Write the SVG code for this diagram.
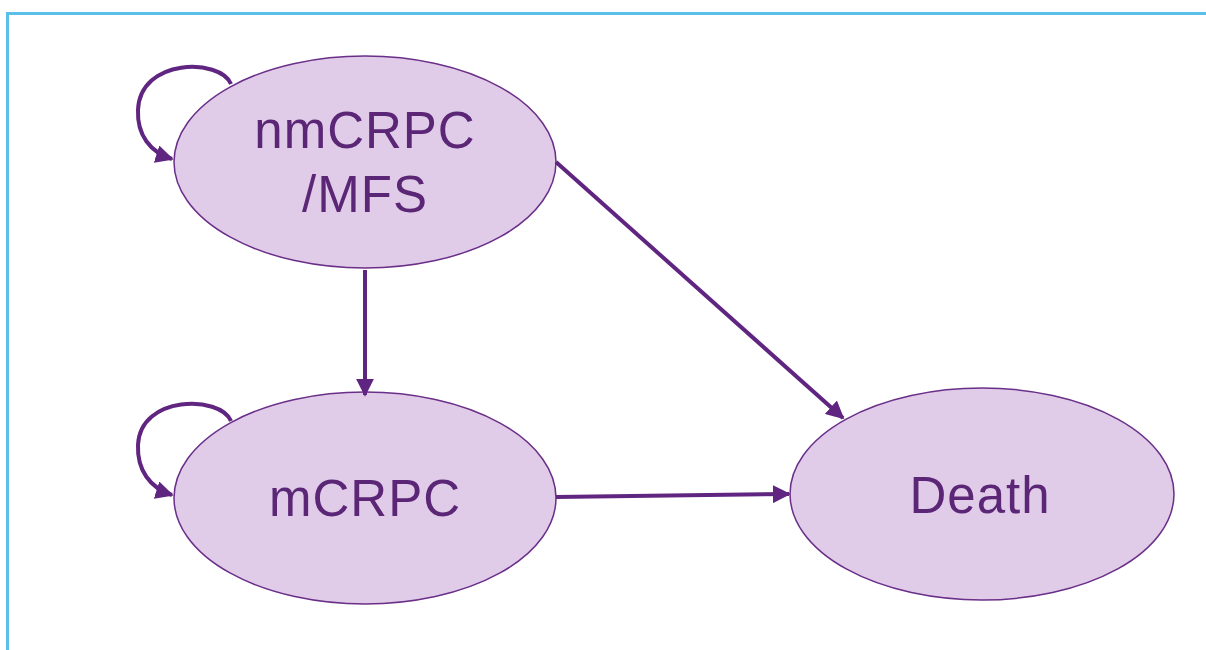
<svg xmlns="http://www.w3.org/2000/svg" width="1206" height="650" viewBox="0 0 1206 650">
<style>
.node ellipse{fill:#e0cbe9;stroke:#6a2f88;stroke-width:1.5}
.node text{font-family:"Liberation Sans",Arial,sans-serif;font-size:51px;letter-spacing:1px;fill:#5a2675;text-anchor:middle}
.conn path{fill:none;stroke:#5f2580;stroke-width:4}
</style>
<defs>
<marker id="ah" viewBox="0 0 10 10" refX="9" refY="5" markerWidth="4.5" markerHeight="4.5" orient="auto" markerUnits="strokeWidth">
<path d="M0,0 L10,5 L0,10 z" fill="#5f2580"/>
</marker>
</defs>
<rect x="0" y="0" width="1206" height="650" fill="#ffffff"/>
<path d="M7.5,650 V13.5 H1206" fill="none" stroke="#5bbfea" stroke-width="3"/>
<g id="n1" class="node">
<ellipse cx="365" cy="162" rx="191" ry="106"/>
<text x="365" y="148">nmCRPC</text>
<text x="365" y="212">/MFS</text>
</g>
<g id="n2" class="node">
<ellipse cx="365" cy="498" rx="191" ry="106"/>
<text x="365" y="516">mCRPC</text>
</g>
<g id="n3" class="node">
<ellipse cx="982" cy="494" rx="192" ry="106"/>
<text x="980" y="513">Death</text>
</g>
<g id="connectors" class="conn">
<path d="M365,270 V395" marker-end="url(#ah)"/>
<path d="M556,162 L843,418" marker-end="url(#ah)"/>
<path d="M556,497 L789,494" marker-end="url(#ah)"/>
<path d="M231,84 C220,58 140,58 138,110 C137,135 150,152 172,159" marker-end="url(#ah)"/>
<path d="M231,421 C220,395 140,395 138,445 C137,470 150,488 172,495" marker-end="url(#ah)"/>
</g>
</svg>
